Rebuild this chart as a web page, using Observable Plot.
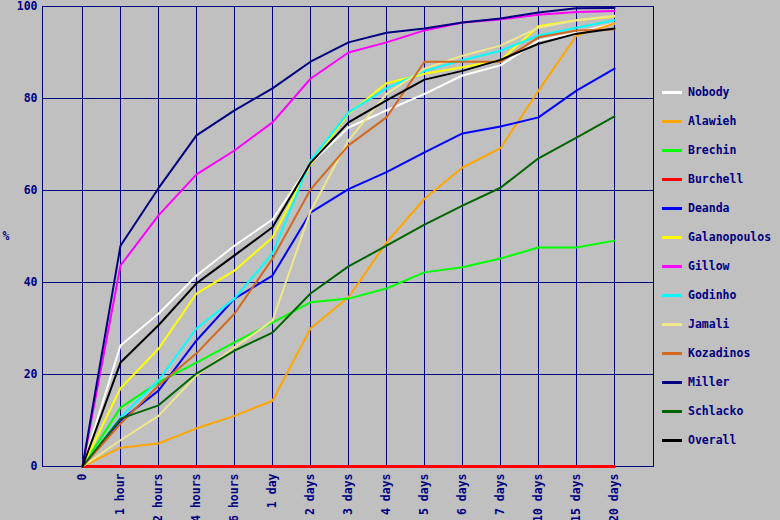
<!DOCTYPE html>
<html>
<head>
<meta charset="utf-8">
<script src="https://cdn.jsdelivr.net/npm/d3@7"></script>
<script src="https://cdn.jsdelivr.net/npm/@observablehq/plot@0.6"></script>
<style>
  html, body { margin: 0; padding: 0; background: #c0c0c0; }
  #wrap { position: relative; width: 780px; height: 520px; overflow: hidden; background: #c0c0c0; }
  #legend { position: absolute; left: 662px; top: 0; font: bold 11.5px "DejaVu Sans Mono", monospace; color: #000080; }
  .item { position: absolute; left: 0; height: 14px; white-space: nowrap; }
  .sw { position: absolute; left: 0; top: 6px; width: 20px; height: 3px; }
  .lb { position: absolute; left: 26px; top: 0; line-height: 14px; }
</style>
</head>
<body>
<div id="wrap"><div id="legend"></div></div>
<script>
const categories = ["0","1 hour","2 hours","4 hours","6 hours","1 day","2 days","3 days","4 days","5 days","6 days","7 days","10 days","15 days","20 days"];
const seriesNames = ["Nobody","Alawieh","Brechin","Burchell","Deanda","Galanopoulos","Gillow","Godinho","Jamali","Kozadinos","Miller","Schlacko","Overall"];
const seriesColors = ["#ffffff","#ffa500","#00ff00","#ff0000","#0000ff","#ffff00","#ff00ff","#00ffff","#f0e68c","#d2691e","#000080","#006400","#000000"];
const yTicks = [0,20,40,60,80,100];
const yLabel = "%";

const nobody       = [0,26.3,33.2,41.5,48.0,53.7,65.9,73.7,77.4,81.0,85.0,87.2,92.6,94.3,96.3];
const alawieh      = [0,4.1,5.0,8.3,11.0,14.3,30.0,36.8,48.7,58.2,65.0,69.2,81.7,93.7,96.3];
const brechin      = [0,12.8,18.3,22.6,27.0,31.3,35.7,36.5,38.7,42.2,43.3,45.2,47.6,47.6,49.1];
const burchell     = [0,0,0,0,0,0,0,0,0,0,0,0,0,0,0];
const deanda       = [0,10.0,16.5,27.4,36.5,41.5,55.2,60.3,64.0,68.3,72.4,73.9,75.9,81.7,86.5];
const galanopoulos = [0,17.0,25.6,37.6,42.6,49.8,65.7,76.7,83.3,85.4,86.8,88.3,95.7,97.0,97.8];
const gillow       = [0,43.7,54.6,63.5,68.7,74.8,84.3,90.0,92.2,94.8,96.5,97.2,98.2,98.8,99.0];
const godinho      = [0,10.7,18.7,30.0,36.5,46.3,66.5,77.0,82.2,86.0,88.3,90.4,93.7,95.4,97.0];
const jamali       = [0,5.7,11.0,19.8,25.9,31.7,55.5,70.9,81.0,86.5,89.3,91.5,95.4,97.0,98.0];
const kozadinos    = [0,9.3,17.6,24.6,33.2,45.2,60.2,69.8,75.9,88.0,88.0,88.0,93.3,94.8,95.0];
const miller       = [0,48.0,60.5,72.0,77.4,82.2,88.0,92.2,94.3,95.2,96.5,97.4,98.7,99.6,99.7];
const schlacko     = [0,10.4,13.3,20.2,25.2,29.1,37.6,43.5,48.0,52.6,56.7,60.6,67.0,71.5,76.1];
const overall      = [0,22.6,30.7,39.8,45.9,52.0,66.0,74.8,79.6,84.1,86.0,88.4,91.9,94.1,95.2];

const seriesValues = [nobody,alawieh,brechin,burchell,deanda,galanopoulos,gillow,godinho,jamali,kozadinos,miller,schlacko,overall];

const rows = [];
seriesNames.forEach((name, i) => {
  seriesValues[i].forEach((v, j) => rows.push({series: name, cat: categories[j], value: v}));
});

const font = '"DejaVu Sans Mono", monospace';
const navy = "#000080";

const chart = Plot.plot({
  width: 780,
  height: 520,
  marginLeft: 42,
  marginRight: 127,
  marginTop: 6,
  marginBottom: 54,
  style: {background: "#c0c0c0", fontFamily: font, fontSize: "11.5px", fontWeight: "bold", color: navy},
  x: {type: "point", domain: categories, padding: 1, label: null},
  y: {domain: [0, 100], ticks: yTicks, label: null},
  color: {domain: seriesNames, range: seriesColors},
  marks: [
    Plot.gridX(categories, {stroke: navy, strokeOpacity: 1, strokeWidth: 1}),
    Plot.gridY(yTicks, {stroke: navy, strokeOpacity: 1, strokeWidth: 1}),
    Plot.frame({stroke: navy, strokeWidth: 1}),
    Plot.axisY({ticks: yTicks, tickSize: 0, tickPadding: 5, fill: navy, label: null}),
    Plot.text([yLabel], {frameAnchor: "left", dx: -40, textAnchor: "start", fill: navy, fontWeight: "bold"}),
    Plot.axisX({tickSize: 0, tickRotate: -90, tickPadding: 7, fill: navy, label: null}),
    Plot.line(rows, {x: "cat", y: "value", z: "series", stroke: "series",
      strokeWidth: d => d.series === "Burchell" ? 3 : 2, curve: "linear", strokeLinejoin: "miter"})
  ]
});

const wrap = document.getElementById("wrap");
wrap.insertBefore(chart, wrap.firstChild);

const legend = document.getElementById("legend");
seriesNames.forEach((name, i) => {
  const it = document.createElement("div");
  it.className = "item";
  it.style.top = (85 + 29 * i) + "px";
  const sw = document.createElement("div");
  sw.className = "sw";
  sw.style.background = seriesColors[i];
  const lb = document.createElement("div");
  lb.className = "lb";
  lb.textContent = name;
  it.appendChild(sw);
  it.appendChild(lb);
  legend.appendChild(it);
});
</script>
</body>
</html>
